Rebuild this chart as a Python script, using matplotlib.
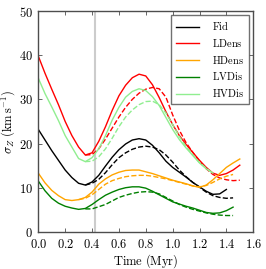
import numpy as np
from matplotlib import pyplot as plt
from matplotlib.ticker import FuncFormatter

nan = np.nan

# time grid (Myr)
time = [0.00, 0.05, 0.10, 0.15, 0.20, 0.25, 0.30, 0.35, 0.40, 0.45, 0.50,
        0.55, 0.60, 0.65, 0.70, 0.75, 0.80, 0.85, 0.90, 0.95, 1.00,
        1.05, 1.10, 1.15, 1.20, 1.25, 1.30, 1.35, 1.40, 1.45, 1.50]

# sigma_Z (km/s), solid runs
fid = [23.2, 20.8, 18.4, 16.2, 14.0, 12.3, 11.0, 10.6, 11.3, 12.8, 14.9,
       16.9, 18.6, 19.9, 20.8, 21.1, 20.8, 19.6, 17.9, 16.0, 14.6,
       13.5, 12.4, 11.2, 10.2, 9.2, 8.5, 8.6, 9.6, nan, nan]
ldens = [39.8, 35.9, 32.3, 28.8, 25.0, 21.8, 19.2, 17.4, 17.9, 20.5, 23.8,
         27.5, 30.8, 33.2, 34.9, 35.7, 35.3, 33.3, 30.4, 27.2, 24.3,
         21.8, 19.8, 18.0, 16.2, 14.6, 13.3, 12.8, 13.2, 14.0, 15.1]
hdens = [13.3, 11.1, 9.4, 8.2, 7.3, 7.1, 7.3, 7.8, 9.0, 10.8, 12.0,
         12.9, 13.5, 13.9, 14.0, 14.0, 13.6, 13.2, 12.7, 12.2, 11.7,
         11.3, 10.9, 10.4, 10.1, 10.6, 11.8, 13.2, 14.6, 15.6, 16.5]
lvdis = [11.5, 9.3, 7.6, 6.5, 5.8, 5.4, 5.1, 5.3, 6.2, 7.3, 8.3,
         9.0, 9.6, 10.0, 10.2, 10.2, 9.9, 9.2, 8.4, 7.6, 6.8,
         6.3, 5.8, 5.4, 4.9, 4.4, 4.2, 4.3, 4.8, 5.6, nan]
hvdis = [34.8, 31.3, 28.3, 25.2, 21.8, 19.2, 16.6, 15.9, 16.8, 18.8, 21.8,
         25.3, 28.2, 30.5, 31.8, 32.4, 32.0, 30.6, 28.6, 25.9, 23.2,
         20.9, 19.0, 17.3, 15.6, 14.3, 13.3, nan, nan, nan, nan]

# dashed runs
fid_d = [nan, nan, nan, nan, nan, nan, nan, 10.6, 11.0, 11.9, 13.4,
         15.2, 16.8, 17.9, 18.7, 19.2, 19.4, 19.2, 18.6, 17.4, 15.8,
         14.0, 12.5, 11.2, 10.1, 9.0, 8.2, 7.8, 7.6, 7.7, nan]
ldens_d = [nan, nan, nan, nan, nan, nan, nan, 17.4, 17.5, 18.8, 21.0,
           23.5, 26.0, 28.2, 30.0, 31.4, 32.3, 32.7, 32.4, 30.5, 26.5,
           23.0, 20.2, 18.0, 16.0, 14.3, 13.0, 12.2, 11.8, 11.6, 11.7]
hdens_d = [nan, nan, nan, nan, nan, nan, 7.3, 7.6, 8.4, 9.6, 10.8,
           11.6, 12.1, 12.5, 12.7, 12.8, 12.8, 12.6, 12.3, 12.0, 11.6,
           11.2, 10.8, 10.4, 10.2, 10.5, 11.2, 12.0, 12.6, 13.0, nan]
lvdis_d = [nan, nan, nan, nan, nan, nan, nan, 5.2, 5.2, 5.7, 6.2,
           7.0, 7.8, 8.3, 8.7, 9.0, 9.1, 9.0, 8.6, 7.8, 7.0,
           6.2, 5.6, 5.1, 4.7, 4.3, 4.0, 3.8, 3.7, 3.7, nan]
hvdis_d = [nan, nan, nan, nan, nan, nan, nan, 15.9, 16.0, 17.0, 18.8,
           21.2, 23.8, 26.0, 27.6, 28.8, 29.5, 29.6, 28.8, 26.9, 24.3,
           21.6, 19.3, 17.4, 15.7, 14.4, 13.3, nan, nan, nan, nan]

labels = ["Fid", "LDens", "HDens", "LVDis", "HVDis"]
colors = ["black", "red", "orange", "green", "lightgreen"]
t_marker = 0.42

plt.rcParams["mathtext.fontset"] = "cm"
plt.rcParams["font.family"] = "serif"

fig = plt.figure(figsize=(2.66, 2.69), dpi=100)
ax = fig.add_axes([0.144, 0.138, 0.808, 0.821])

ax.axvline(t_marker, color="#cccccc", lw=1.5, zorder=0)

solid = [fid, ldens, hdens, lvdis, hvdis]
dashed = [fid_d, ldens_d, hdens_d, lvdis_d, hvdis_d]
for lab, col, s, d in zip(labels, colors, solid, dashed):
    ax.plot(time, s, "-", color=col, lw=1.0, label=r"$\mathrm{%s}$" % lab)
    ax.plot(time, d, "--", color=col, lw=1.0)

ax.set_xlim(0, 1.6)
ax.set_ylim(0, 50)
ax.set_xticks(np.arange(0, 1.61, 0.2))
ax.set_yticks(np.arange(0, 51, 10))
ax.xaxis.set_major_formatter(FuncFormatter(lambda v, p: r"$%.1f$" % v))
ax.yaxis.set_major_formatter(FuncFormatter(lambda v, p: r"$%d$" % v))
ax.tick_params(direction="in", top=True, right=True, labelsize=9,
               length=3, width=0.6, color="0.3")
ax.tick_params(axis="x", pad=4.5)
ax.tick_params(axis="y", pad=4)
for sp in ax.spines.values():
    sp.set_color("0.3")
    sp.set_linewidth(1.0)

ax.set_xlabel(r"$\mathrm{Time\ (Myr)}$", fontsize=9, labelpad=1)
ax.set_ylabel(r"$\sigma_Z\ (\mathrm{km\,s^{-1}})$", fontsize=9, labelpad=1)

leg = ax.legend(loc="upper right", fontsize=7.5, fancybox=False,
                handlelength=2.2, borderpad=0.5, labelspacing=0.45,
                handletextpad=1.2, borderaxespad=0.4)
leg.get_frame().set_edgecolor("0.3")
leg.get_frame().set_linewidth(1.0)

plt.savefig("out.png", dpi=100)
